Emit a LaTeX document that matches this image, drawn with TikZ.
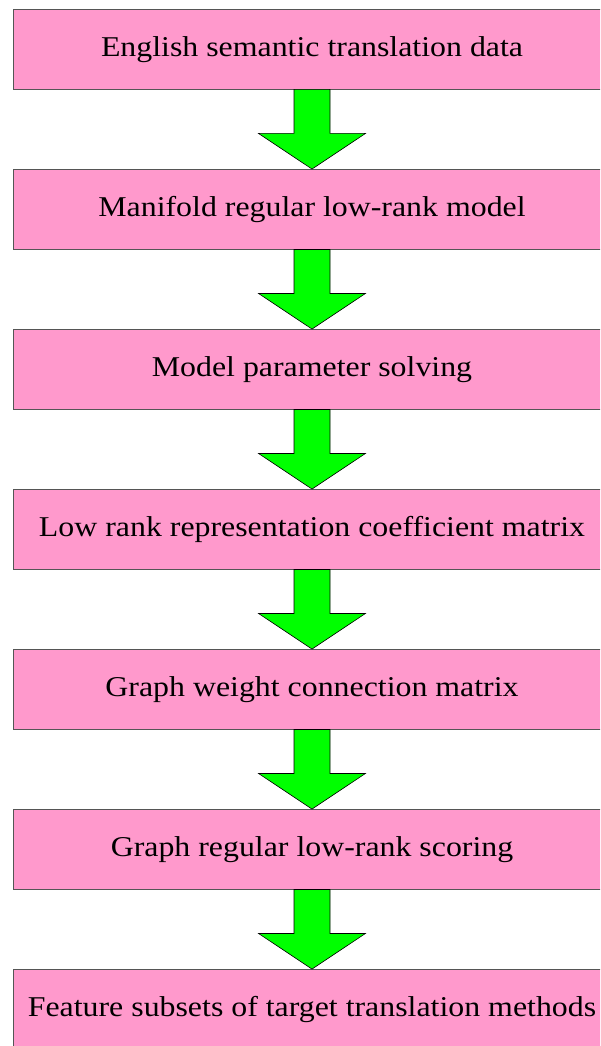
\documentclass[tikz,border=0pt]{standalone}
\usepackage{fontspec}
\setmainfont{Liberation Serif}[FakeStretch=1.11]
\usepackage{tikz}
\usetikzlibrary{positioning, calc}
\definecolor{fcPink}{HTML}{FF99CC}
\definecolor{fcGreen}{HTML}{00FF00}
\definecolor{fcEdge}{HTML}{555555}
\tikzset{
  fc-box/.style={
    rectangle, draw=fcEdge, fill=fcPink, line width=0.9pt,
    minimum width=598pt, minimum height=79.5pt, inner sep=0pt,
    align=center, font=\fontsize{28.7pt}{34pt}\selectfont
  },
  fc-arrow/.style={draw=black, fill=fcGreen, line width=0.6pt, line join=miter},
}
\begin{document}
\begin{tikzpicture}[x=1pt, y=-1pt, node distance=79.6pt]
  \useasboundingbox (0,0) rectangle (600,1046);
  \clip (0,0) rectangle (600,1046);
  \node[fc-box] (data) at (312,49.25) {English semantic translation data};
  \node[fc-box, below=of data] (model) {Manifold regular low-rank model};
  \node[fc-box, below=of model] (solve) {Model parameter solving};
  \node[fc-box, below=of solve] (coef) {Low rank representation coefficient matrix};
  \node[fc-box, below=of coef] (graph) {Graph weight connection matrix};
  \node[fc-box, below=of graph] (score) {Graph regular low-rank scoring};
  \node[fc-box, below=of score] (feat) {Feature subsets of target translation methods};

  % block arrows between the steps
  \foreach \a/\b in {data/model, model/solve, solve/coef, coef/graph, graph/score, score/feat} {
    \draw[fc-arrow] ($(\a.south)+(-18,0)$) -- ++(0,44) -- ++(-35.5,0) -- (\b.north)
      -- ($(\a.south)+(53.5,44)$) -- ++(-35.5,0) -- ($(\a.south)+(18,0)$) -- cycle;
  }
\end{tikzpicture}
\end{document}
